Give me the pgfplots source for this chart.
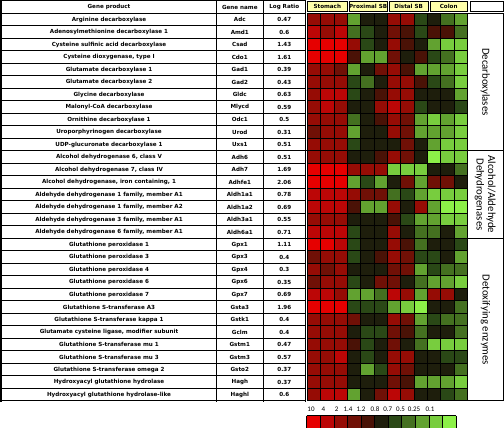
\documentclass[border=0pt]{standalone}
\usepackage{pgfplots}
\pgfplotsset{compat=1.18}
\usepackage{fontspec}
\setmainfont{DejaVu Sans}
\newfontfamily\calib{Carlito}
\definecolor{hdr}{RGB}{255,255,170}
\pgfdeclareplotmark{cell}{\pgfpathrectangle{\pgfpoint{-6.667pt}{-6.25pt}}{\pgfpoint{13.333pt}{12.5pt}}\pgfusepathqfill}
\pgfdeclareplotmark{keycell}{\pgfpathrectangle{\pgfpoint{-6.785pt}{-6.15pt}}{\pgfpoint{13.57pt}{12.3pt}}\pgfusepathqfill}
\begin{document}
\begin{tikzpicture}
\begin{axis}[
  at={(0,0)}, anchor=south west,
  width=504pt, height=428pt, scale only axis,
  xmin=0, xmax=504, ymin=0, ymax=428, y dir=reverse,
  hide axis, clip=false,
  colormap={heat}{rgb255=(230,0,0) rgb255=(188,6,6) rgb255=(150,12,5) rgb255=(112,16,6) rgb255=(74,18,6) rgb255=(30,30,12) rgb255=(42,72,22) rgb255=(68,112,32) rgb255=(98,162,48) rgb255=(120,205,62) rgb255=(140,240,72)},
  point meta min=0, point meta max=10,
]
\addplot[scatter, only marks, mark=cell, point meta=explicit,
   scatter/use mapped color={draw=mapped color, fill=mapped color}]
 table[row sep=\\, x expr={307.3+13.333*(\thisrow{j}+0.5)}, y expr={13.3+12.5*(\thisrow{i}+0.5)}, meta=c] {
j i c\\
0 0 2\\ 1 0 2\\ 2 0 2\\ 3 0 8\\ 4 0 5\\ 5 0 5\\ 6 0 2\\ 7 0 2\\ 8 0 6\\ 9 0 5\\ 10 0 7\\ 11 0 8\\
0 1 1\\ 1 1 2\\ 2 1 1\\ 3 1 7\\ 4 1 6\\ 5 1 5\\ 6 1 3\\ 7 1 4\\ 8 1 6\\ 9 1 4\\ 10 1 4\\ 11 1 7\\
0 2 0\\ 1 2 0\\ 2 2 0\\ 3 2 2\\ 4 2 6\\ 5 2 5\\ 6 2 2\\ 7 2 4\\ 8 2 5\\ 9 2 8\\ 10 2 9\\ 11 2 9\\
0 3 0\\ 1 3 0\\ 2 3 0\\ 3 3 4\\ 4 3 8\\ 5 3 8\\ 6 3 3\\ 7 3 5\\ 8 3 4\\ 9 3 6\\ 10 3 7\\ 11 3 9\\
0 4 2\\ 1 4 2\\ 2 4 3\\ 3 4 8\\ 4 4 5\\ 5 4 3\\ 6 4 2\\ 7 4 4\\ 8 4 8\\ 9 4 8\\ 10 4 8\\ 11 4 9\\
0 5 2\\ 1 5 2\\ 2 5 2\\ 3 5 6\\ 4 5 7\\ 5 5 5\\ 6 5 2\\ 7 5 2\\ 8 5 4\\ 9 5 6\\ 10 5 7\\ 11 5 9\\
0 6 2\\ 1 6 1\\ 2 6 1\\ 3 6 6\\ 4 6 5\\ 5 6 4\\ 6 6 2\\ 7 6 2\\ 8 6 5\\ 9 6 5\\ 10 6 5\\ 11 6 8\\
0 7 2\\ 1 7 1\\ 2 7 2\\ 3 7 5\\ 4 7 5\\ 5 7 2\\ 6 7 1\\ 7 7 2\\ 8 7 6\\ 9 7 5\\ 10 7 5\\ 11 7 6\\
0 8 2\\ 1 8 2\\ 2 8 2\\ 3 8 7\\ 4 8 5\\ 5 8 4\\ 6 8 2\\ 7 8 3\\ 8 8 8\\ 9 8 9\\ 10 8 8\\ 11 8 9\\
0 9 3\\ 1 9 2\\ 2 9 2\\ 3 9 8\\ 4 9 5\\ 5 9 5\\ 6 9 2\\ 7 9 3\\ 8 9 8\\ 9 9 8\\ 10 9 8\\ 11 9 9\\
0 10 2\\ 1 10 2\\ 2 10 2\\ 3 10 6\\ 4 10 5\\ 5 10 5\\ 6 10 5\\ 7 10 3\\ 8 10 5\\ 9 10 8\\ 10 10 9\\ 11 10 9\\
0 11 2\\ 1 11 2\\ 2 11 2\\ 3 11 5\\ 4 11 5\\ 5 11 4\\ 6 11 2\\ 7 11 3\\ 8 11 5\\ 9 11 10\\ 10 11 9\\ 11 11 9\\
0 12 0\\ 1 12 0\\ 2 12 0\\ 3 12 2\\ 4 12 2\\ 5 12 2\\ 6 12 9\\ 7 12 9\\ 8 12 9\\ 9 12 5\\ 10 12 5\\ 11 12 7\\
0 13 0\\ 1 13 0\\ 2 13 0\\ 3 13 8\\ 4 13 6\\ 5 13 8\\ 6 13 5\\ 7 13 3\\ 8 13 8\\ 9 13 3\\ 10 13 3\\ 11 13 5\\
0 14 1\\ 1 14 1\\ 2 14 1\\ 3 14 2\\ 4 14 3\\ 5 14 3\\ 6 14 7\\ 7 14 6\\ 8 14 8\\ 9 14 9\\ 10 14 9\\ 11 14 9\\
0 15 1\\ 1 15 1\\ 2 15 1\\ 3 15 4\\ 4 15 8\\ 5 15 8\\ 6 15 2\\ 7 15 5\\ 8 15 2\\ 9 15 8\\ 10 15 10\\ 11 15 10\\
0 16 2\\ 1 16 2\\ 2 16 2\\ 3 16 5\\ 4 16 5\\ 5 16 5\\ 6 16 4\\ 7 16 6\\ 8 16 8\\ 9 16 8\\ 10 16 9\\ 11 16 9\\
0 17 1\\ 1 17 1\\ 2 17 1\\ 3 17 6\\ 4 17 5\\ 5 17 5\\ 6 17 2\\ 7 17 5\\ 8 17 7\\ 9 17 7\\ 10 17 5\\ 11 17 8\\
0 18 0\\ 1 18 0\\ 2 18 1\\ 3 18 6\\ 4 18 5\\ 5 18 5\\ 6 18 2\\ 7 18 4\\ 8 18 7\\ 9 18 5\\ 10 18 5\\ 11 18 6\\
0 19 3\\ 1 19 2\\ 2 19 2\\ 3 19 6\\ 4 19 5\\ 5 19 4\\ 6 19 2\\ 7 19 3\\ 8 19 6\\ 9 19 6\\ 10 19 5\\ 11 19 8\\
0 20 2\\ 1 20 3\\ 2 20 2\\ 3 20 5\\ 4 20 5\\ 5 20 5\\ 6 20 3\\ 7 20 3\\ 8 20 8\\ 9 20 6\\ 10 20 7\\ 11 20 7\\
0 21 3\\ 1 21 2\\ 2 21 2\\ 3 21 6\\ 4 21 5\\ 5 21 3\\ 6 21 3\\ 7 21 5\\ 8 21 7\\ 9 21 8\\ 10 21 8\\ 11 21 9\\
0 22 1\\ 1 22 1\\ 2 22 2\\ 3 22 8\\ 4 22 8\\ 5 22 7\\ 6 22 1\\ 7 22 2\\ 8 22 8\\ 9 22 2\\ 10 22 2\\ 11 22 5\\
0 23 0\\ 1 23 0\\ 2 23 0\\ 3 23 6\\ 4 23 6\\ 5 23 6\\ 6 23 8\\ 7 23 9\\ 8 23 10\\ 9 23 5\\ 10 23 5\\ 11 23 7\\
0 24 2\\ 1 24 2\\ 2 24 2\\ 3 24 3\\ 4 24 5\\ 5 24 5\\ 6 24 2\\ 7 24 3\\ 8 24 8\\ 9 24 6\\ 10 24 7\\ 11 24 7\\
0 25 2\\ 1 25 2\\ 2 25 2\\ 3 25 5\\ 4 25 6\\ 5 25 6\\ 6 25 3\\ 7 25 4\\ 8 25 7\\ 9 25 5\\ 10 25 5\\ 11 25 7\\
0 26 2\\ 1 26 2\\ 2 26 2\\ 3 26 4\\ 4 26 6\\ 5 26 5\\ 6 26 3\\ 7 26 5\\ 8 26 7\\ 9 26 9\\ 10 26 9\\ 11 26 9\\
0 27 2\\ 1 27 2\\ 2 27 1\\ 3 27 5\\ 4 27 6\\ 5 27 5\\ 6 27 2\\ 7 27 2\\ 8 27 5\\ 9 27 5\\ 10 27 6\\ 11 27 6\\
0 28 2\\ 1 28 2\\ 2 28 2\\ 3 28 5\\ 4 28 8\\ 5 28 6\\ 6 28 2\\ 7 28 3\\ 8 28 5\\ 9 28 5\\ 10 28 5\\ 11 28 7\\
0 29 2\\ 1 29 2\\ 2 29 2\\ 3 29 5\\ 4 29 5\\ 5 29 5\\ 6 29 3\\ 7 29 4\\ 8 29 8\\ 9 29 8\\ 10 29 8\\ 11 29 9\\
0 30 2\\ 1 30 1\\ 2 30 1\\ 3 30 8\\ 4 30 5\\ 5 30 3\\ 6 30 1\\ 7 30 2\\ 8 30 5\\ 9 30 5\\ 10 30 6\\ 11 30 7\\
};
% colour key
\addplot[scatter, only marks, mark=keycell, point meta=explicit,
   scatter/use mapped color={draw=mapped color, fill=mapped color}]
 table[row sep=\\, x expr={306.7+13.57*(\thisrow{j}+0.5)}, y expr={421.85}, meta=c] {
j c\\
0 0\\ 1 1\\ 2 2\\ 3 3\\ 4 4\\ 5 5\\ 6 6\\ 7 7\\ 8 8\\ 9 9\\ 10 10\\
};
\end{axis}
\begin{scope}[x=1pt,y=-1pt,yshift=428pt]
 \tikzset{tt/.style={font=\fontsize{5.6}{6.5}\selectfont\bfseries, inner sep=0pt}}
 % heatmap grid
 \foreach \m in {0,...,12} \draw[black, line width=0.6pt] ({307.3+13.333*\m},13.3) -- ({307.3+13.333*\m},400.8);
 \foreach \k in {0,...,31} \draw[black, line width=0.6pt] (307.3,{13.3+12.5*\k}) -- (467.3,{13.3+12.5*\k});
 % key borders
 \foreach \m in {0,...,11} \draw[black, line width=0.6pt] ({306.7+13.57*\m},415.7) -- ({306.7+13.57*\m},428);
 \draw[black, line width=0.6pt] (306.7,415.7) -- (456,415.7);
 % table lines
 \foreach \k in {0,...,31} \draw[black, line width=0.7pt] (1,{13.3+12.5*\k}) -- (305.5,{13.3+12.5*\k});
 \draw[black, line width=1.4pt] (1,0.7) -- (305.5,0.7);
 \draw[black, line width=1.6pt] (0.8,0) -- (0.8,401.7);
 \draw[black, line width=0.7pt] (216.5,0.7) -- (216.5,401.7);
 \draw[black, line width=0.7pt] (263,0.7) -- (263,401.7);
 \draw[black, line width=0.7pt] (305.5,0.7) -- (305.5,401.7);
 \draw[black, line width=1.2pt] (1,150.8) -- (503.5,150.8);
 \draw[black, line width=1.2pt] (1,238.3) -- (503.5,238.3);
 % right column
 \draw[black, line width=0.7pt] (467.3,13.3) rectangle (503.3,400.8);
 \draw[black, line width=0.7pt] (470,1.7) rectangle (503.3,11.7);
 % heatmap headers
 \foreach \a/\b/\t in {307.3/347.3/Stomach, 349/387.3/Proximal SB, 389/428.3/Distal SB, 430/467.3/Colon}
   {\draw[black, line width=0.7pt, fill=hdr] (\a,1.7) rectangle (\b,11.7);
    \node[tt] at ({(\a+\b)/2},6.9) {\t};}
 % table header
 \node[tt] at (109,7) {Gene product};
 \node[tt] at (239.8,7) {Gene name};
 \node[tt] at (284.3,7) {Log Ratio};
 % rows
 \foreach \n/\p/\g/\r in {
  1/Arginine decarboxylase/Adc/0.47,
  2/Adenosylmethionine decarboxylase 1/Amd1/0.6,
  3/Cysteine sulfinic acid decarboxylase/Csad/1.43,
  4/{Cysteine dioxygenase, type I}/Cdo1/1.61,
  5/Glutamate decarboxylase 1/Gad1/0.39,
  6/Glutamate decarboxylase 2/Gad2/0.43,
  7/Glycine decarboxylase/Gldc/0.63,
  8/Malonyl-CoA decarboxylase/Mlycd/0.59,
  9/Ornithine decarboxylase 1/Odc1/0.5,
  10/Uroporphyrinogen decarboxylase/Urod/0.31,
  11/UDP-glucuronate decarboxylase 1/Uxs1/0.51,
  12/{Alcohol dehydrogenase 6, class V}/Adh6/0.51,
  13/{Alcohol dehydrogenase 7, class IV}/Adh7/1.69,
  14/{Alcohol dehydrogenase, iron containing, 1}/Adhfe1/2.06,
  15/{Aldehyde dehydrogenase 1 family, member A1}/Aldh1a1/0.78,
  16/{Aldehyde dehydrogenase 1 family, member A2}/Aldh1a2/0.69,
  17/{Aldehyde dehydrogenase 3 family, member A1}/Aldh3a1/0.55,
  18/{Aldehyde dehydrogenase 6 family, member A1}/Aldh6a1/0.71,
  19/Glutathione peroxidase 1/Gpx1/1.11,
  20/Glutathione peroxidase 3/Gpx3/0.4,
  21/Glutathione peroxidase 4/Gpx4/0.3,
  22/Glutathione peroxidase 6/Gpx6/0.35,
  23/Glutathione peroxidase 7/Gpx7/0.69,
  24/Glutathione S-transferase A3/Gsta3/1.96,
  25/Glutathione S-transferase kappa 1/Gstk1/0.4,
  26/{Glutamate cysteine ligase, modifier subunit}/Gclm/0.4,
  27/Glutathione S-transferase mu 1/Gstm1/0.47,
  28/Glutathione S-transferase mu 3/Gstm3/0.57,
  29/Glutathione S-transferase omega 2/Gsto2/0.37,
  30/Hydroxyacyl glutathione hydrolase/Hagh/0.37,
  31/Hydroxyacyl glutathione hydrolase-like/Haghl/0.6}
 {\node[tt] at (109,{13.3+12.5*(\n-0.5)}) {\p};
  \node[tt] at (239.8,{13.3+12.5*(\n-0.5)}) {\g};
  \node[tt] at (284.3,{13.3+12.5*(\n-0.5)}) {\r};}
 % group labels
 \node[rotate=-90, font=\calib\fontsize{10.8}{11.5}\selectfont, inner sep=0pt] at (485.3,82) {Decarboxylases};
 \node[rotate=-90, align=center, font=\calib\fontsize{10.8}{11.5}\selectfont, inner sep=0pt] at (485.3,194.5) {Alcohol/Aldehyde\\Dehydrogenases};
 \node[rotate=-90, font=\calib\fontsize{10.8}{11.5}\selectfont, inner sep=0pt] at (485.3,320) {Detoxifying enzymes};
 % key labels
 \foreach \x/\t in {311/10, 323.5/4, 336.7/2, 348/1.4, 361/1.2, 375/0.8, 387.7/0.7, 400.5/0.5, 414/0.25, 430/0.1}
   \node[font=\calib\fontsize{7}{8}\selectfont, inner sep=0pt] at (\x,409) {\t};
\end{scope}
\pgfresetboundingbox
\path (0,0) rectangle (504pt,428pt);
\end{tikzpicture}
\end{document}
